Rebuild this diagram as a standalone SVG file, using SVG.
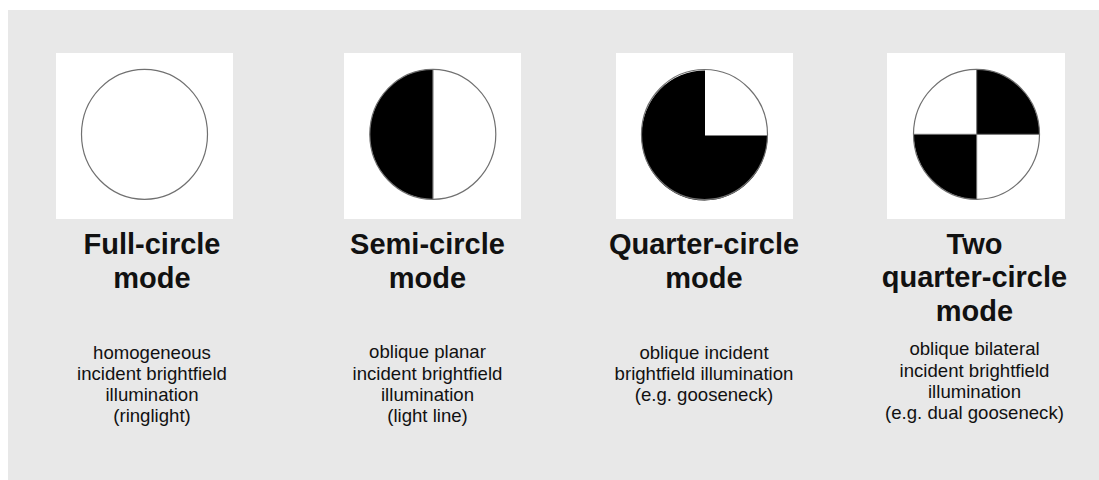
<svg xmlns="http://www.w3.org/2000/svg" width="1099" height="480" viewBox="0 0 1099 480">
<style>
.panel{fill:#e8e8e8}
.tile{fill:#ffffff}
.ring{fill:none;stroke:#707070;stroke-width:1.2}
.dark{fill:#000000}
.div{stroke:#707070;stroke-width:1}
.title{font-family:"Liberation Sans",Arial,sans-serif;font-weight:bold;font-size:29px;fill:#111;text-anchor:middle}
.desc{font-family:"Liberation Sans",Arial,sans-serif;font-size:18.6px;fill:#111;text-anchor:middle}
</style>
<rect class="panel" x="8" y="10" width="1091" height="470"/>
<g id="full-circle">
<rect class="tile" x="56" y="53" width="177" height="166"/>
<ellipse class="ring" cx="144.5" cy="134.3" rx="63" ry="65"/>
<text class="title" x="152" y="254">Full-circle</text>
<text class="title" x="152" y="288">mode</text>
<text class="desc" x="152" y="359">homogeneous</text>
<text class="desc" x="152" y="380">incident brightfield</text>
<text class="desc" x="152" y="401">illumination</text>
<text class="desc" x="152" y="422">(ringlight)</text>
</g>
<g id="semi-circle">
<rect class="tile" x="344" y="53" width="177" height="166"/>
<path class="dark" d="M432.8,69.3 A63,65 0 0 0 432.8,199.3 Z"/>
<ellipse class="ring" cx="432.8" cy="134.3" rx="63" ry="65"/>
<line class="div" x1="433" y1="69.3" x2="433" y2="199.3"/>
<text class="title" x="427.5" y="254">Semi-circle</text>
<text class="title" x="427.5" y="288">mode</text>
<text class="desc" x="427.5" y="358">oblique planar</text>
<text class="desc" x="427.5" y="380">incident brightfield</text>
<text class="desc" x="427.5" y="401">illumination</text>
<text class="desc" x="427.5" y="422">(light line)</text>
</g>
<g id="quarter-circle">
<rect class="tile" x="616" y="53" width="177" height="166"/>
<path class="dark" d="M705,135.5 L767.5,135.5 A63,65 0 1 1 705,70.5 Z"/>
<ellipse class="ring" cx="704.5" cy="134.5" rx="63" ry="65"/>
<text class="title" x="704" y="254">Quarter-circle</text>
<text class="title" x="704" y="288">mode</text>
<text class="desc" x="704" y="359">oblique incident</text>
<text class="desc" x="704" y="380">brightfield illumination</text>
<text class="desc" x="704" y="401">(e.g. gooseneck)</text>
</g>
<g id="two-quarter-circle">
<rect class="tile" x="887" y="53" width="178" height="166"/>
<path class="dark" d="M976.7,134.3 L976.7,69.3 A63,65 0 0 1 1039.5,134.3 Z"/>
<path class="dark" d="M976.7,134.3 L976.7,199.3 A63,65 0 0 1 913.7,134.3 Z"/>
<ellipse class="ring" cx="976.5" cy="134.3" rx="63" ry="65"/>
<line class="div" x1="913.5" y1="134.3" x2="1039.5" y2="134.3"/>
<line class="div" x1="976.7" y1="69.3" x2="976.7" y2="199.3"/>
<text class="title" x="974.5" y="254">Two</text>
<text class="title" x="974.5" y="287">quarter-circle</text>
<text class="title" x="974.5" y="321">mode</text>
<text class="desc" x="974.5" y="355">oblique bilateral</text>
<text class="desc" x="974.5" y="377">incident brightfield</text>
<text class="desc" x="974.5" y="398">illumination</text>
<text class="desc" x="974.5" y="419">(e.g. dual gooseneck)</text>
</g>
</svg>
